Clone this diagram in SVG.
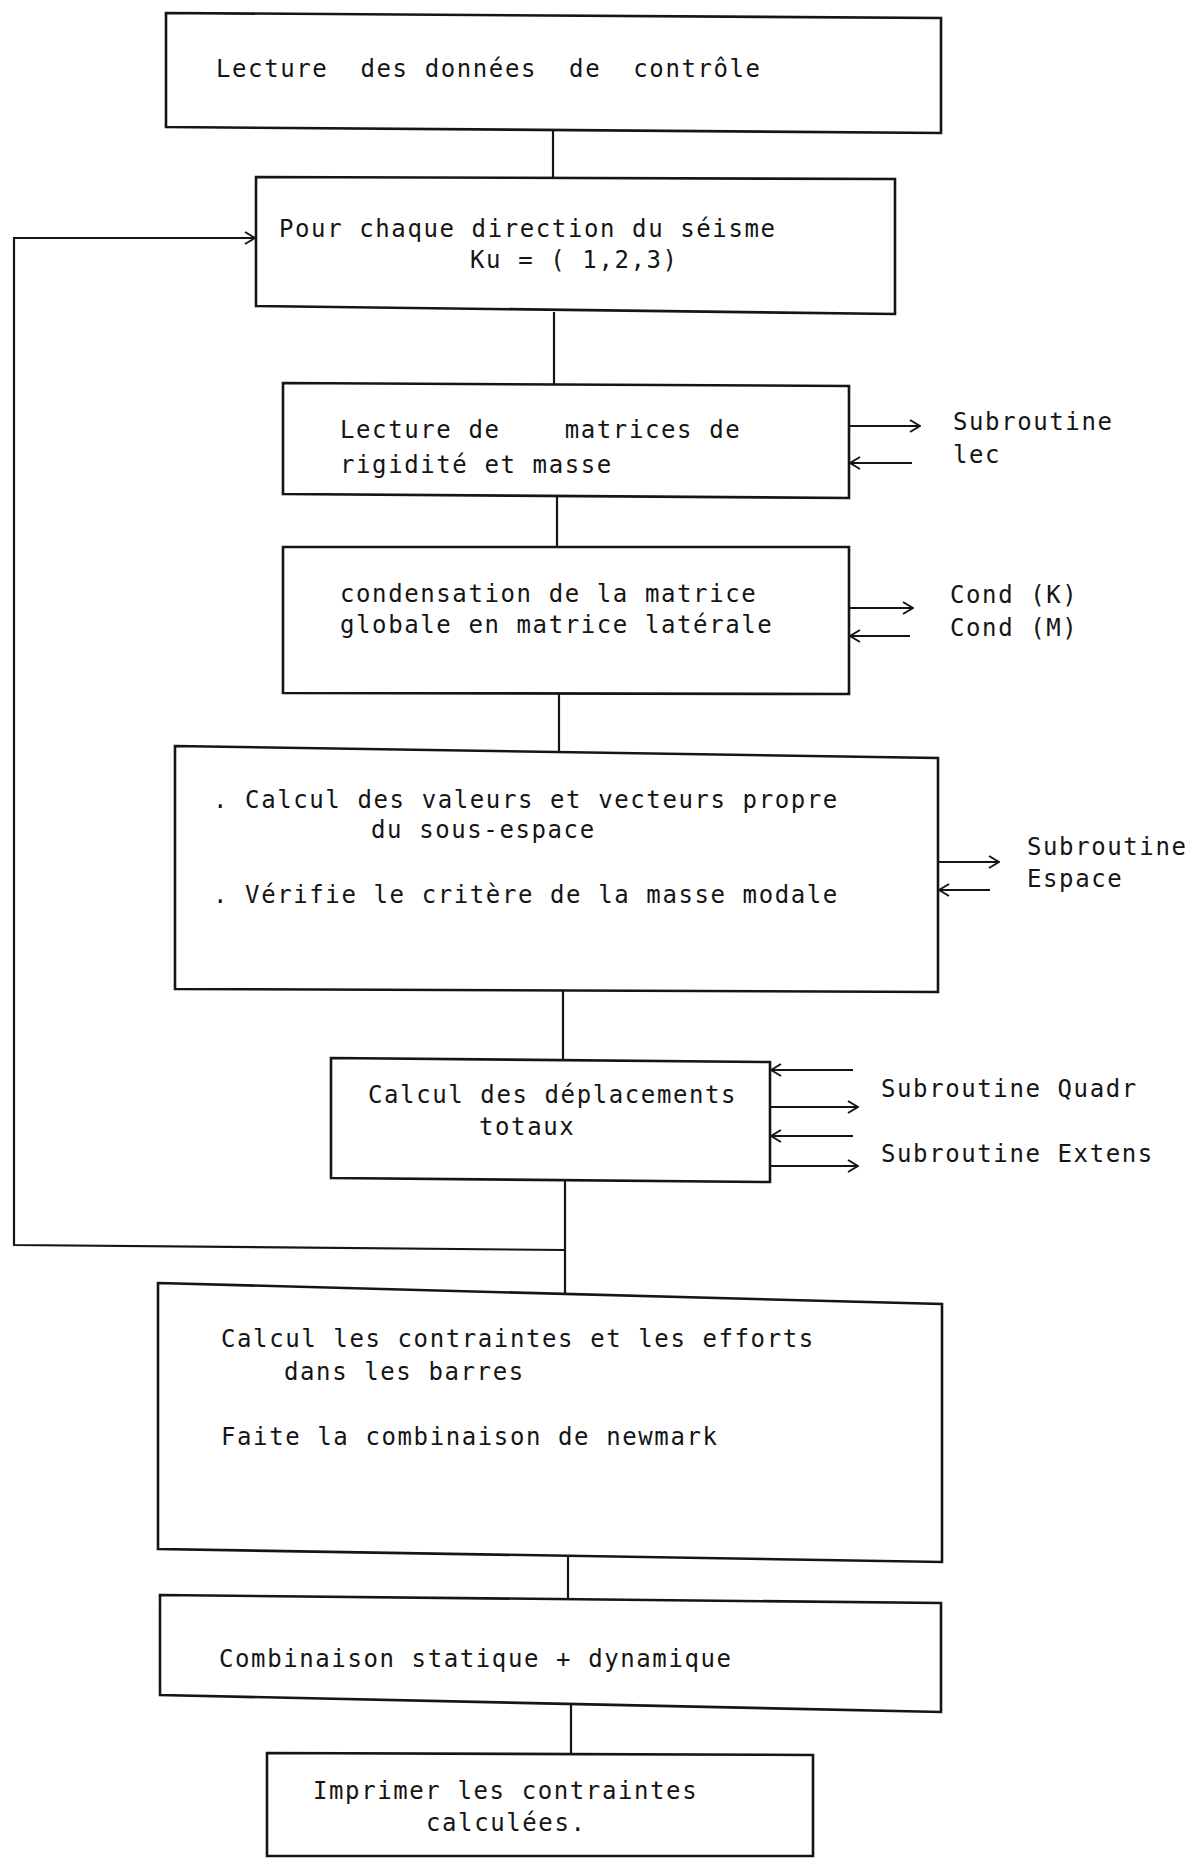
<svg xmlns="http://www.w3.org/2000/svg" width="1193" height="1860" viewBox="0 0 1193 1860">
<style>
text{font-family:"DejaVu Sans Mono","Liberation Mono",monospace;font-size:24px;letter-spacing:1.6px;fill:#151515;white-space:pre;}
.box{fill:none;stroke:#151515;stroke-width:2.6;stroke-linejoin:miter;}
.ln{fill:none;stroke:#151515;stroke-width:2.2;}
.ar{fill:none;stroke:#151515;stroke-width:2.2;marker-end:url(#ah);}
</style>
<defs>
<marker id="ah" viewBox="0 0 12 14" refX="11" refY="7" markerWidth="12" markerHeight="14" markerUnits="userSpaceOnUse" orient="auto">
<path d="M1,1 L11,7 L1,13" fill="none" stroke="#151515" stroke-width="2"/>
</marker>
</defs>
<rect width="1193" height="1860" fill="#ffffff"/>

<g id="connectors">
<line class="ln" x1="553" y1="131" x2="553" y2="178"/>
<line class="ln" x1="554" y1="312" x2="554" y2="384"/>
<line class="ln" x1="557" y1="497" x2="557" y2="547"/>
<line class="ln" x1="559" y1="694" x2="559" y2="751"/>
<line class="ln" x1="563" y1="991" x2="563" y2="1060"/>
<line class="ln" x1="565" y1="1181" x2="565" y2="1293"/>
<line class="ln" x1="568" y1="1555" x2="568" y2="1599"/>
<line class="ln" x1="571" y1="1704" x2="571" y2="1754"/>
<polyline class="ar" points="565,1250 14,1245 14,238 255,238"/>
<line class="ar" x1="849" y1="426" x2="920" y2="426"/>
<line class="ar" x1="912" y1="463" x2="850" y2="463"/>
<line class="ar" x1="849" y1="608" x2="913" y2="608"/>
<line class="ar" x1="910" y1="636" x2="850" y2="636"/>
<line class="ar" x1="938" y1="862" x2="999" y2="862"/>
<line class="ar" x1="990" y1="890" x2="939" y2="890"/>
<line class="ar" x1="853" y1="1070" x2="771" y2="1070"/>
<line class="ar" x1="770" y1="1107" x2="858" y2="1107"/>
<line class="ar" x1="853" y1="1136" x2="771" y2="1136"/>
<line class="ar" x1="770" y1="1166" x2="858" y2="1166"/>
</g>

<g id="n1">
<path class="box" d="M166,13 L941,18 L941,133 L166,127 Z"/>
<text x="216" y="77" xml:space="preserve">Lecture  des données  de  contrôle</text>
</g>
<g id="n2">
<path class="box" d="M256,177 L895,179 L895,314 L256,306 Z"/>
<text x="279" y="237">Pour chaque direction du séisme</text>
<text x="470" y="268">Ku = ( 1,2,3)</text>
</g>
<g id="n3">
<path class="box" d="M283,383 L849,386 L849,498 L283,494 Z"/>
<text x="340" y="438" xml:space="preserve">Lecture de    matrices de</text>
<text x="340" y="473">rigidité et masse</text>
<text x="953" y="430">Subroutine</text>
<text x="953" y="463">lec</text>
</g>
<g id="n4">
<path class="box" d="M283,547 L849,547 L849,694 L283,693 Z"/>
<text x="340" y="602">condensation de la matrice</text>
<text x="340" y="633">globale en matrice latérale</text>
<text x="950" y="603">Cond (K)</text>
<text x="950" y="636">Cond (M)</text>
</g>
<g id="n5">
<path class="box" d="M175,746 L938,758 L938,992 L175,989 Z"/>
<text x="213" y="808">. Calcul des valeurs et vecteurs propre</text>
<text x="371" y="838">du sous-espace</text>
<text x="213" y="903">. Vérifie le critère de la masse modale</text>
<text x="1027" y="855">Subroutine</text>
<text x="1027" y="887">Espace</text>
</g>
<g id="n6">
<path class="box" d="M331,1058 L770,1062 L770,1182 L331,1178 Z"/>
<text x="368" y="1103">Calcul des déplacements</text>
<text x="479" y="1135">totaux</text>
<text x="881" y="1097">Subroutine Quadr</text>
<text x="881" y="1162">Subroutine Extens</text>
</g>
<g id="n7">
<path class="box" d="M158,1283 L942,1304 L942,1562 L158,1549 Z"/>
<text x="221" y="1347">Calcul les contraintes et les efforts</text>
<text x="284" y="1380">dans les barres</text>
<text x="221" y="1445">Faite la combinaison de newmark</text>
</g>
<g id="n8">
<path class="box" d="M160,1595 L941,1603 L941,1712 L160,1695 Z"/>
<text x="219" y="1667">Combinaison statique + dynamique</text>
</g>
<g id="n9">
<path class="box" d="M267,1753 L813,1755 L813,1856 L267,1856 Z"/>
<text x="313" y="1799">Imprimer les contraintes</text>
<text x="426" y="1831">calculées.</text>
</g>
</svg>
